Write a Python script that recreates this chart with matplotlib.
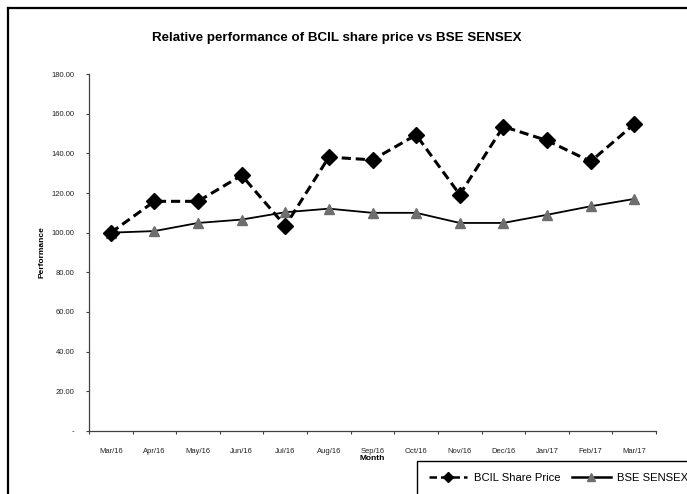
import matplotlib
matplotlib.use("Agg")
import matplotlib.pyplot as plt
from matplotlib.lines import Line2D
from matplotlib.patches import Rectangle
import numpy as np

plt.rcParams['font.family'] = ['Liberation Sans', 'DejaVu Sans']

# data
months = ['Mar/16', 'Apr/16', 'May/16', 'Jun/16', 'Jul/16', 'Aug/16', 'Sep/16',
          'Oct/16', 'Nov/16', 'Dec/16', 'Jan/17', 'Feb/17', 'Mar/17']
bcil = [100.0, 115.8, 115.8, 128.9, 103.4, 138.1, 136.7,
        149.3, 119.2, 153.5, 146.5, 135.9, 154.7]
sensex = [100.0, 100.8, 104.9, 106.6, 110.3, 112.1, 110.0,
          110.0, 104.9, 104.9, 109.0, 113.3, 117.0]
yticks = [0, 20, 40, 60, 80, 100, 120, 140, 160, 180]

W, H = 687, 494
fig = plt.figure(figsize=(W / 100, H / 100), dpi=100)
ax = fig.add_axes([89 / W, 1 - 431 / H, (656 - 89) / W, (431 - 74) / H])

x = np.arange(len(months))
ax.plot(x, bcil, color='black', linestyle=(0, (3, 1.6)), linewidth=2.2,
        marker='D', markersize=8, markerfacecolor='black', markeredgecolor='black',
        label='BCIL Share Price', zorder=3)
ax.plot(x, sensex, color='black', linestyle='-', linewidth=1.3,
        marker='^', markersize=7.5, markerfacecolor='#6e6e6e', markeredgecolor='#6e6e6e',
        label='BSE SENSEX', zorder=2)

ax.set_xlim(-0.5, len(months) - 0.5)
ax.set_ylim(0, 180)
ax.set_yticks(yticks)
ax.set_yticklabels(['-' if v == 0 else '%.2f' % v for v in yticks])
ax.set_xticks(x)
ax.set_xticklabels(months)
ax.set_xticks(np.arange(len(months) + 1) - 0.5, minor=True)
ax.tick_params(axis='x', which='major', length=0, pad=12, labelsize=5.5, labelcolor='#222222')
ax.tick_params(axis='x', which='minor', length=2.5, width=0.8, color='#404040', direction='out')
ax.tick_params(axis='y', length=2.5, width=0.8, color='#404040', direction='out', pad=8,
               labelsize=5.5, labelcolor='#222222')

for s in ['top', 'right']:
    ax.spines[s].set_visible(False)
for s in ['left', 'bottom']:
    ax.spines[s].set_color('#404040')
    ax.spines[s].set_linewidth(0.9)

ax.set_ylabel('Performance', fontsize=6, fontweight='bold', labelpad=4)
ax.set_xlabel('Month', fontsize=6, fontweight='bold', labelpad=0)

fig.text(337 / W, 1 - 38 / H, 'Relative performance of BCIL share price vs BSE SENSEX',
         ha='center', va='center', fontsize=9.6, fontweight='bold')

# outer frame (top and left edges)
fig.add_artist(Line2D([7.5 / W, 1.0], [1 - 8.5 / H, 1 - 8.5 / H], color='black',
                      linewidth=1.6, transform=fig.transFigure))
fig.add_artist(Line2D([7.5 / W, 7.5 / W], [0, 1 - 8.5 / H], color='black',
                      linewidth=1.6, transform=fig.transFigure))

# legend box at bottom right
fig.add_artist(Rectangle((417 / W, -0.05), 1.0, (494 - 461) / H + 0.05,
                         transform=fig.transFigure, fill=False, edgecolor='black', linewidth=1.0))
leg = fig.legend(loc='center left', bbox_to_anchor=(429 / W, 1 - 478 / H), ncol=2,
                 frameon=False, fontsize=8.1, handlelength=3.4, columnspacing=1.05,
                 handletextpad=0.6, borderaxespad=0, borderpad=0)
for h in leg.legend_handles:
    h.set_markersize(5.5)
    h.set_linewidth(1.8)

fig.savefig('out.png', dpi=100)
